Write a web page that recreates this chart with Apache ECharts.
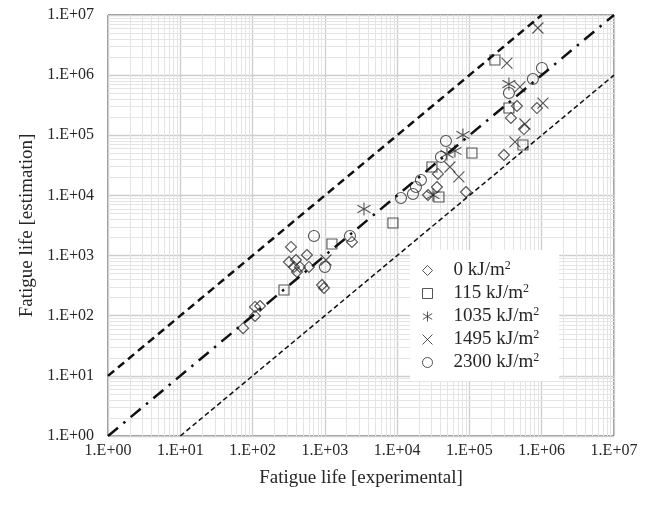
<!DOCTYPE html>
<html>
<head>
<meta charset="utf-8">
<script src="https://cdn.jsdelivr.net/npm/echarts@6/dist/echarts.min.js"></script>
<style>html,body{margin:0;padding:0;background:#fff}#c{width:656px;height:509px}</style>
</head>
<body>
<div id="c"></div>
<script>
// ---- data: [experimental, estimation] ----
const seriesNames = ['0 kJ/m2', '115 kJ/m2', '1035 kJ/m2', '1495 kJ/m2', '2300 kJ/m2'];
const data0 = [[74,62],[108,99],[108,140],[127,145],[340,1390],[319,782],[398,844],[374,646],[452,646],[411,533],[565,1022],[603,646],[912,324],[972,289],[2371,1683],[26700,10170],[35500,13810],[36650,22730],[89500,11400],[300000,47000],[375000,194000],[454000,307000],[568000,127000],[859000,284000]];
const data115 = [[272,268],[1254,1558],[8750,3480],[30300,29700],[37850,9420],[108300,50800],[225300,1790000],[352000,284000],[550000,69000]];
const data1035 = [[3475,5946],[31300,10170],[48870,48900],[63000,54880],[81300,101100],[352000,713000]];
const data1495 = [[1035,844],[53700,29700],[71600,20270],[426000,77400],[586000,154000],[499000,636000],[330000,1590000],[885000,6080000],[1040000,344000]];
const data2300 = [[707,2117],[2224,2117],[1002,646],[11290,9060],[16550,10560],[18200,13810],[21330,18060],[40360,43540],[47330,80350],[352000,505000],[755000,863000],[1007000,1316000]];
const lineEqual = [[1,1],[1e7,1e7]];
const lineUpper = [[1,10],[1e6,1e7]];
const lineLower = [[10,1],[1e7,1e6]];
const axisMin = 1, axisMax = 1e7;
const minorMultipliers = [2,3,4,5,6,7,8,9];

const FONT = "'Liberation Serif','Times New Roman',serif";
const INK = '#262626';
const MARK = '#2a2a2a';
const chart = echarts.init(document.getElementById('c'), null, {renderer:'canvas'});

function fmt(v){ const e = Math.round(Math.log10(v)); return '1.E+' + String(e).padStart(2,'0'); }

const minorX = [], minorY = [];
for (let e = 0; e < 7; e++) for (const m of minorMultipliers) { minorX.push({xAxis: m*Math.pow(10,e)}); minorY.push({yAxis: m*Math.pow(10,e)}); }

const symAst = 'path://M0,-6L0,6M-5.6,-3.4L5.6,3.4M-5.6,3.4L5.6,-3.4';
const symX = 'path://M-5,-5L5,5M-5,5L5,-5';

function scatter(name, data, symbol, size){
  return {name, type:'scatter', data, symbol, symbolSize:size, z:3,
    itemStyle:{color:'rgba(255,255,255,0)', borderColor:MARK, borderWidth:1.1}};
}
function line(data, width, dash){
  return {type:'line', data, symbol:'none', z:4, silent:true,
    lineStyle:{color:'#111', width, type:dash}};
}

chart.setOption({
  animation:false,
  grid:{left:108, right:42, top:15, bottom:73, show:true, borderColor:'#333', borderWidth:1},
  xAxis:{type:'log', logBase:10, min:axisMin, max:axisMax, splitNumber:7,
    name:'Fatigue life [experimental]', nameLocation:'middle', nameGap:33,
    nameTextStyle:{fontFamily:FONT, fontSize:19, color:INK},
    axisLine:{show:false}, axisTick:{show:false},
    axisLabel:{formatter:fmt, fontFamily:FONT, fontSize:16, color:INK, margin:7},
    splitLine:{show:true, lineStyle:{color:'#cdcdcd', width:1.3}}},
  yAxis:{type:'log', logBase:10, min:axisMin, max:axisMax, splitNumber:7,
    name:'Fatigue life [estimation]', nameLocation:'middle', nameGap:69,
    nameTextStyle:{fontFamily:FONT, fontSize:19, color:INK},
    axisLine:{show:false}, axisTick:{show:false},
    axisLabel:{formatter:fmt, fontFamily:FONT, fontSize:16, color:INK, margin:14},
    splitLine:{show:true, lineStyle:{color:'#cdcdcd', width:1.3}}},
  legend:{orient:'vertical', left:410, top:250, padding:[10,20,8,12], backgroundColor:'#fff', z:10,
    itemWidth:10, itemHeight:10, itemGap:2, data:seriesNames,
    itemStyle:{color:'rgba(255,255,255,0)', borderColor:MARK, borderWidth:1},
    formatter: n => '{a|' + n.slice(0,-1) + '}{s|2}',
    textStyle:{color:INK, rich:{
      a:{fontFamily:FONT, fontSize:19, color:INK, lineHeight:20, padding:[0,0,0,16]},
      s:{fontFamily:FONT, fontSize:12, color:INK, lineHeight:12, padding:[0,0,9,0]}}}},
  series:[
    {type:'line', data:[], silent:true, z:0,
      markLine:{silent:true, z:0, symbol:'none', label:{show:false}, animation:false,
        lineStyle:{color:'#e4e4e4', width:1, type:'solid'}, data: minorX.concat(minorY)}},
    scatter(seriesNames[0], data0, 'diamond', 11),
    scatter(seriesNames[1], data115, 'rect', 10),
    scatter(seriesNames[2], data1035, symAst, 13),
    scatter(seriesNames[3], data1495, symX, 11),
    scatter(seriesNames[4], data2300, 'circle', 11),
    line(lineEqual, 2.5, [13,7,2.5,7]),
    line(lineUpper, 2.5, [8,5]),
    line(lineLower, 1.5, [5,3])
  ]
});
</script>
</body>
</html>
